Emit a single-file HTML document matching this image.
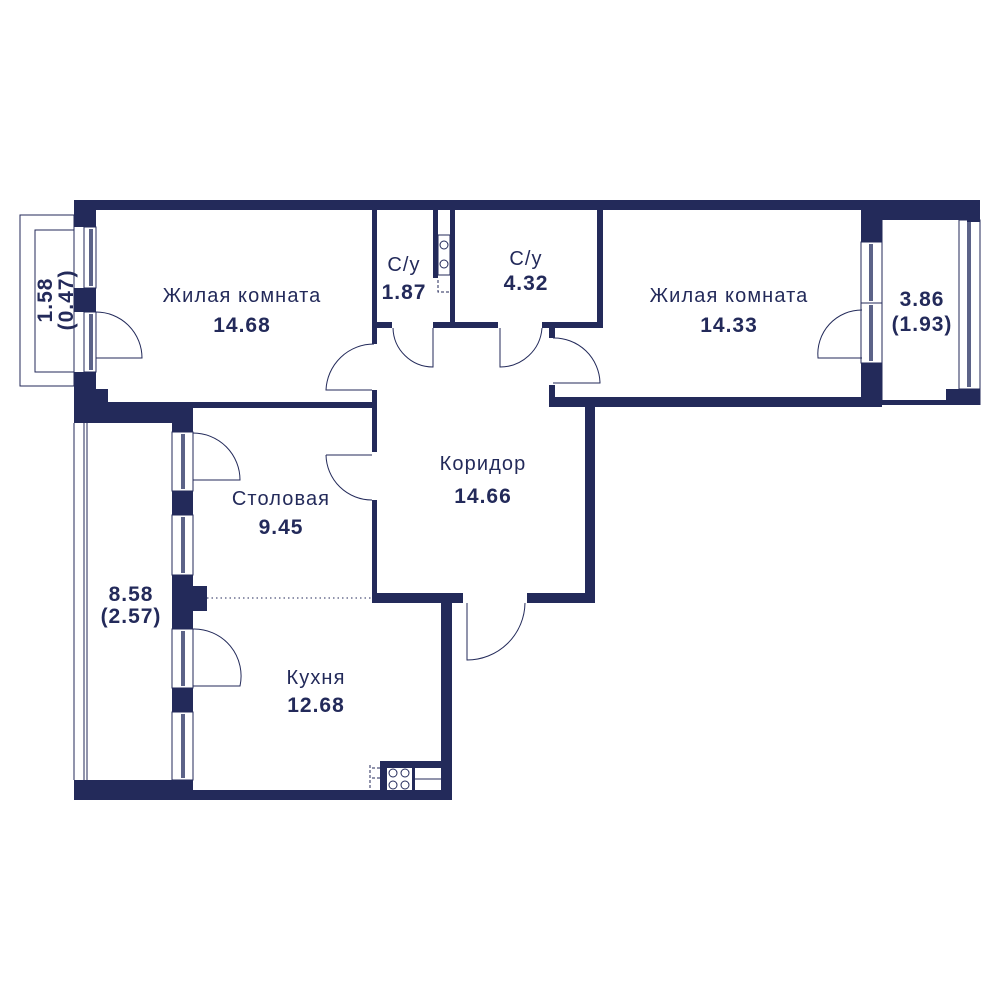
<!DOCTYPE html>
<html><head><meta charset="utf-8"><style>
html,body{margin:0;padding:0;background:#fff;width:1000px;height:1000px;overflow:hidden}
svg{display:block}
text{font-family:"Liberation Sans",sans-serif;fill:#232a5a}
.l{font-size:20px;letter-spacing:1.1px}
.n{font-size:21px;font-weight:bold;letter-spacing:1px}
</style></head><body>
<svg width="1000" height="1000" viewBox="0 0 1000 1000" xmlns="http://www.w3.org/2000/svg">
<g fill="#232a5a">
<rect x="74" y="200" width="906" height="10"/>
<rect x="861" y="200" width="119" height="20"/>
<rect x="967" y="200" width="13" height="22"/>
<rect x="74" y="200" width="22" height="27"/>
<rect x="74" y="288" width="22" height="24"/>
<rect x="74" y="372" width="22" height="51"/>
<rect x="74" y="389" width="34" height="34"/>
<rect x="74" y="402" width="119" height="21"/>
<rect x="172" y="402" width="21" height="30"/>
<rect x="108" y="402" width="269" height="6"/>
<rect x="372" y="210" width="5" height="134"/>
<rect x="372" y="390" width="5" height="62"/>
<rect x="372" y="500" width="5" height="103"/>
<rect x="377" y="322" width="15" height="6"/>
<rect x="433" y="210" width="5" height="68"/>
<rect x="450" y="210" width="5" height="118"/>
<rect x="433" y="322" width="65" height="6"/>
<rect x="542" y="322" width="61" height="6"/>
<rect x="597" y="210" width="6" height="118"/>
<rect x="549" y="328" width="6" height="10"/>
<rect x="549" y="385" width="6" height="22"/>
<rect x="549" y="397" width="333" height="10"/>
<rect x="861" y="210" width="21" height="32"/>
<rect x="861" y="363" width="21" height="44"/>
<rect x="585" y="397" width="10" height="206"/>
<rect x="946" y="389" width="34" height="11"/>
<rect x="882" y="400" width="98" height="5"/>
<rect x="372" y="593" width="91" height="10"/>
<rect x="527" y="593" width="68" height="10"/>
<rect x="441" y="593" width="11" height="207"/>
<rect x="74" y="780" width="119" height="20"/>
<rect x="74" y="790" width="378" height="10"/>
<rect x="380" y="761" width="61" height="29"/>
<rect x="172" y="491" width="21" height="24"/>
<rect x="172" y="575" width="21" height="54"/>
<rect x="193" y="586" width="14" height="25"/>
<rect x="172" y="688" width="21" height="24"/>
</g>
<g fill="none" stroke="#232a5a" stroke-width="1">
<rect x="20" y="215" width="54" height="171"/>
<rect x="35" y="230" width="39" height="142"/>
<line x1="74" y1="423" x2="74" y2="780"/>
<line x1="84" y1="423" x2="84" y2="780"/>
<line x1="87" y1="423" x2="87" y2="780"/>
<rect x="84" y="227" width="12" height="61"/>
<rect x="84" y="312" width="12" height="60"/>
<rect x="172" y="432" width="21" height="59"/>
<rect x="172" y="515" width="21" height="60"/>
<rect x="172" y="629" width="21" height="59"/>
<rect x="172" y="712" width="21" height="68"/>
<rect x="861" y="242" width="21" height="61"/>
<rect x="861" y="303" width="21" height="60"/>
<rect x="959" y="220" width="21" height="169"/>
<line x1="882" y1="220" x2="882" y2="400"/>
<line x1="980" y1="222" x2="980" y2="405"/>
<path d="M96 312 A46 46 0 0 1 142 358 L96 358"/>
<path d="M193 433 A47 47 0 0 1 240 480 L193 480"/>
<path d="M193 629 A47 47 0 0 1 240 686 L193 686"/>
<path d="M374 344 A48 48 0 0 0 326 390 L372 390"/>
<path d="M326 455 L372 455 M326 455 A46 46 0 0 0 372 500"/>
<path d="M393 328 A40 40 0 0 0 433 367 L433 328"/>
<path d="M542 328 A42 42 0 0 1 500 367 L500 328"/>
<path d="M553 338 A46 46 0 0 1 600 383 L553 383"/>
<path d="M862 310 A44 44 0 0 0 818 358 L862 358"/>
<path d="M467 603 L467 660 A58 58 0 0 0 525 603"/>
<line x1="207" y1="598" x2="372" y2="598" stroke-dasharray="1.5 3"/>
<path d="M438 280 V292 H450" stroke-dasharray="3 2"/>
<path d="M380 768 H370 M380 778 H370 M370 765 V790" stroke-dasharray="3 2"/>
</g>
<rect x="438" y="235" width="12" height="40" fill="#fff" stroke="#232a5a"/>
<circle cx="444" cy="245" r="4" fill="none" stroke="#232a5a"/><circle cx="444" cy="264" r="4" fill="none" stroke="#232a5a"/>
<rect x="387" y="768" width="25" height="22" fill="#fff"/>
<circle cx="393" cy="773" r="4" fill="none" stroke="#232a5a"/><circle cx="405" cy="773" r="4" fill="none" stroke="#232a5a"/>
<circle cx="393" cy="785" r="4" fill="none" stroke="#232a5a"/><circle cx="405" cy="785" r="4" fill="none" stroke="#232a5a"/>
<rect x="415" y="768" width="26" height="22" fill="#fff"/>
<line x1="415" y1="779" x2="441" y2="779" stroke="#232a5a"/>
<g fill="#5c6388">
<rect x="89" y="229" width="4" height="57"/><rect x="89" y="314" width="4" height="56"/>
<rect x="181" y="434" width="4" height="55"/><rect x="181" y="517" width="4" height="56"/>
<rect x="181" y="631" width="4" height="55"/><rect x="181" y="714" width="4" height="64"/>
<rect x="869" y="244" width="4" height="57"/><rect x="869" y="305" width="4" height="56"/>
<rect x="967" y="222" width="4" height="165"/>
</g>
<text class="l" x="242" y="302" text-anchor="middle">Жилая комната</text>
<text class="n" x="242" y="332" text-anchor="middle">14.68</text>
<text class="l" x="404" y="271" text-anchor="middle">С/у</text>
<text class="n" x="404" y="299" text-anchor="middle">1.87</text>
<text class="l" x="526" y="265" text-anchor="middle">С/у</text>
<text class="n" x="526" y="290" text-anchor="middle">4.32</text>
<text class="l" x="729" y="302" text-anchor="middle">Жилая комната</text>
<text class="n" x="729" y="332" text-anchor="middle">14.33</text>
<text class="n" x="922" y="306" text-anchor="middle">3.86</text>
<text class="n" x="922" y="331" text-anchor="middle">(1.93)</text>
<text class="l" x="483" y="470" text-anchor="middle">Коридор</text>
<text class="n" x="483" y="503" text-anchor="middle">14.66</text>
<text class="l" x="281" y="505" text-anchor="middle">Столовая</text>
<text class="n" x="281" y="534" text-anchor="middle">9.45</text>
<text class="n" x="131" y="601" text-anchor="middle">8.58</text>
<text class="n" x="131" y="623" text-anchor="middle">(2.57)</text>
<text class="l" x="316" y="684" text-anchor="middle">Кухня</text>
<text class="n" x="316" y="712" text-anchor="middle">12.68</text>
<g transform="translate(52 300) rotate(-90)">
<text class="n" x="0" y="0" text-anchor="middle">1.58</text>
<text class="n" x="0" y="21" text-anchor="middle">(0.47)</text>
</g>
</svg>
</body></html>
